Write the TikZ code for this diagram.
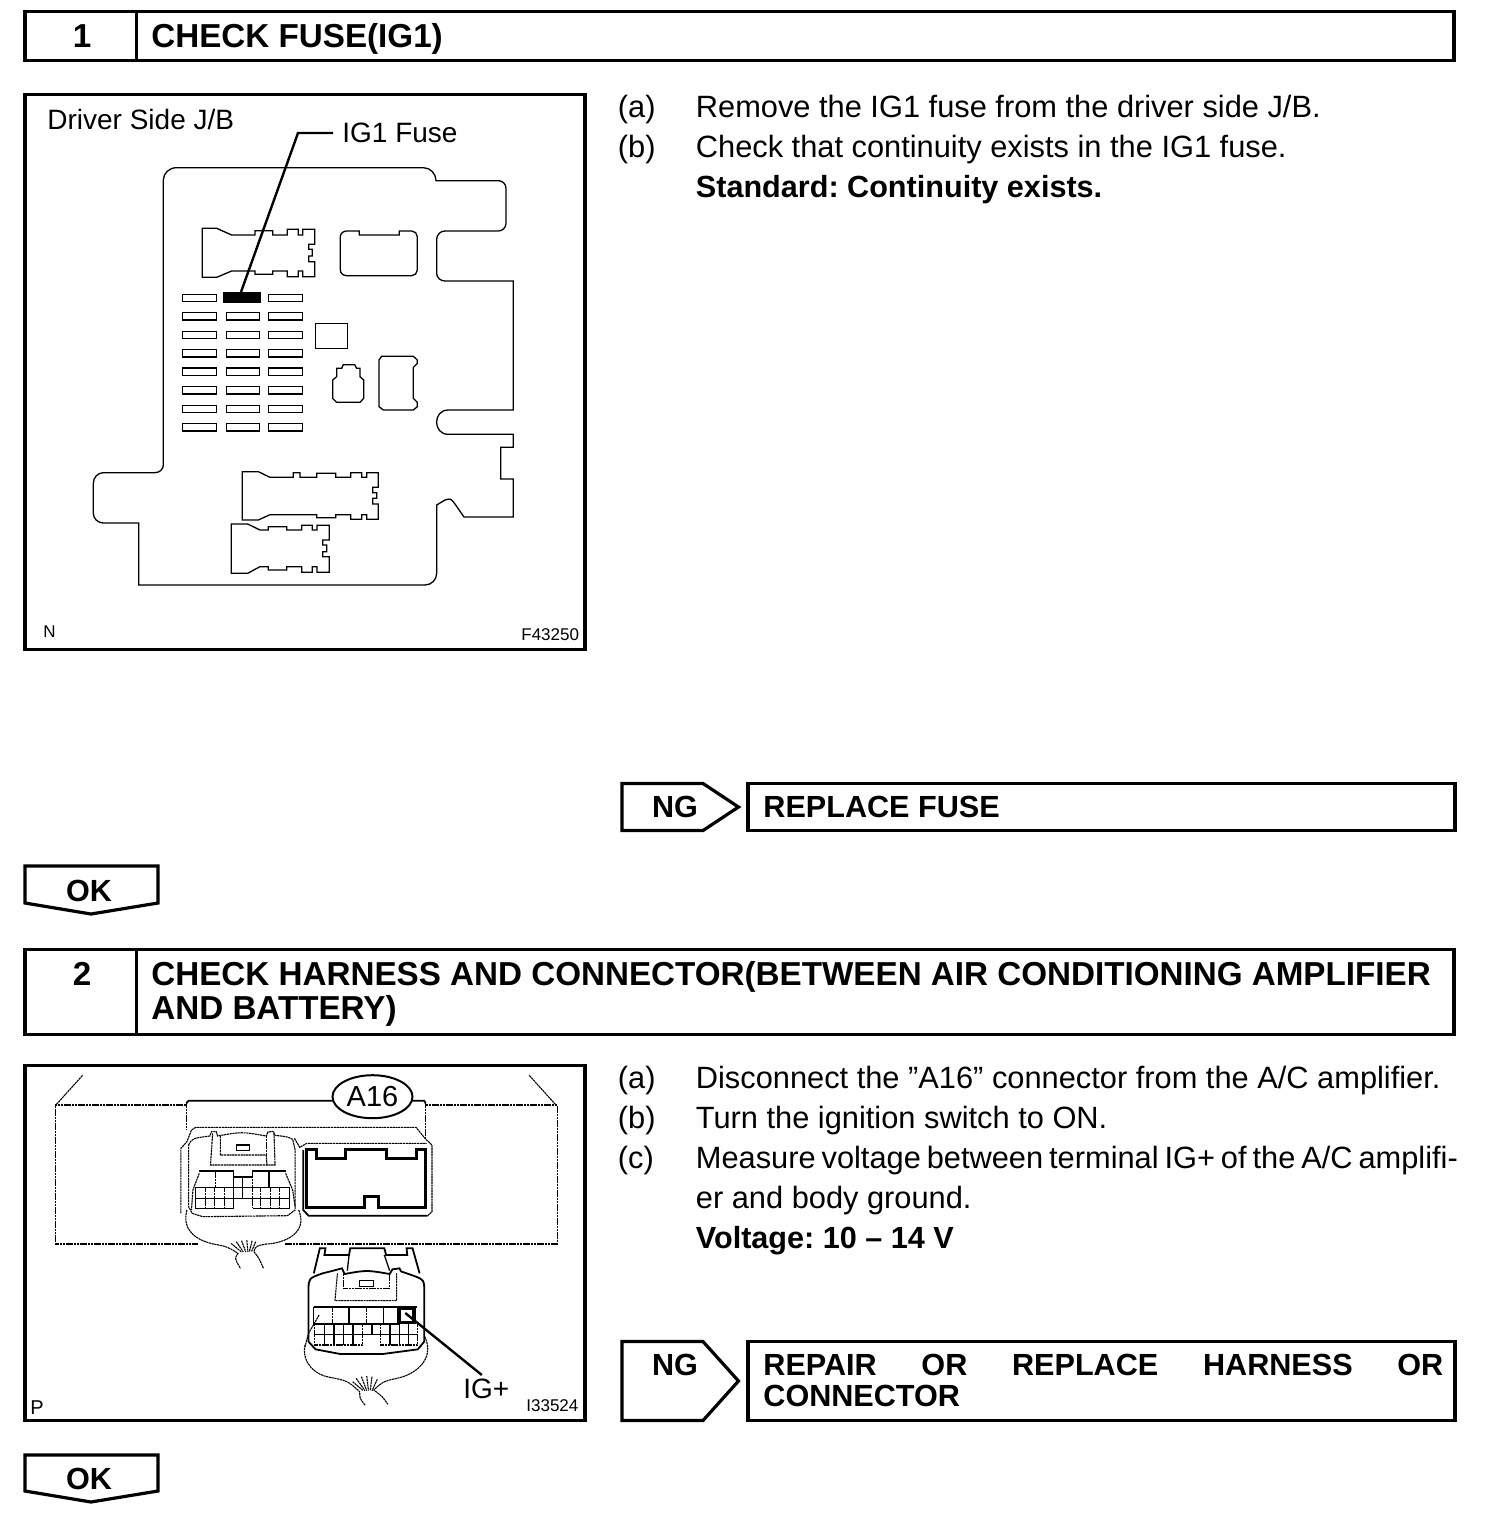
\documentclass[tikz,border=0pt]{standalone}
\usepackage{fontspec}
\setmainfont{Liberation Sans}
\usetikzlibrary{shapes.geometric,calc}
\AtBeginDocument{\frenchspacing}
\newcommand{\fpx}[1]{\fontsize{#1}{#1}\selectfont}
\newcommand{\rc}[3]{.. controls ($(#1)!.55!(#2)$) and ($(#3)!.55!(#2)$) .. (#3)}
\tikzset{
  x=0.5pt,y=0.5pt,
  frame/.style={draw=black,line width=1.6pt,line join=miter},
  txt/.style={anchor=base west,inner sep=0pt,font=\fpx{15.4}},
  btxt/.style={anchor=base west,inner sep=0pt,font=\fpx{15.3}\bfseries},
  head/.style={anchor=base west,inner sep=0pt,font=\fpx{16.6}\bfseries},
  lbl/.style={anchor=base west,inner sep=0pt,font=\fpx{14}},
  tiny/.style={anchor=base west,inner sep=0pt,font=\fpx{8.5}},
  part/.style={draw=black,line width=0.65pt,line join=miter},
  fine/.style={draw=black,line width=0.55pt,dash pattern=on 1.1pt off 0.3pt},
  heavy/.style={draw=black,line width=1.5pt,line join=miter},
  leader/.style={draw=black,line width=1.2pt},
  zoomA/.style={shift={(80,-150)},xscale=1/3,yscale=-1/3},
  zoomB/.style={shift={(30,-1070)},xscale=1/2.836,yscale=-1/3},
}
\begin{document}
\begin{tikzpicture}
\useasboundingbox (0,0) rectangle (1504,-1532);
\fill[white] (0,0) rectangle (1504,-1532);

% headers
\draw[frame] (25,-11.5) rectangle (1454,-60.5);
\draw[frame] (136.5,-11.5) -- (136.5,-60.5);
\node[head,anchor=base] (n1) at (82,-47) {1};
\node[head] (h1) at (151,-47) {CHECK FUSE(IG1)};
\draw[frame] (25,-949.5) rectangle (1454,-1034.5);
\draw[frame] (136.5,-949.5) -- (136.5,-1034.5);
\node[head,anchor=base] (n2) at (82,-985) {2};
\node[head] (h2a) at (151,-985) {CHECK HARNESS AND CONNECTOR(BETWEEN AIR CONDITIONING AMPLIFIER};
\node[head] (h2b) at (151,-1019) {AND BATTERY)};

% picture frames
\draw[frame] (25,-94.5) rectangle (585,-649.5);
\draw[frame] (25,-1065.5) rectangle (585,-1420.5);

% step 1 text
\node[txt] (a1) at (617.5,-117) {(a)};
\node[txt] (a1t) at (695.5,-117) {Remove the IG1 fuse from the driver side J/B.};
\node[txt] (b1) at (617.5,-157) {(b)};
\node[txt] (b1t) at (695.5,-157) {Check that continuity exists in the IG1 fuse.};
\node[btxt] (s1) at (695.5,-197) {Standard: Continuity exists.};

% NG / OK 1
\draw[frame] (622,-783.5) -- (703,-783.5) -- (738.5,-807) -- (703,-830.5) -- (622,-830.5) -- cycle;
\node[btxt,anchor=base] (ng1) at (675,-817) {NG};
\draw[frame] (748,-783.5) rectangle (1455,-830.5);
\node[btxt] (r1) at (763,-817) {REPLACE FUSE};
\draw[frame] (25,-866) -- (158,-866) -- (158,-903) -- (91,-914) -- (25,-903) -- cycle;
\node[btxt,anchor=base] (ok1) at (89,-901) {OK};

% step 2 text
\node[txt] (a2) at (617.5,-1088) {(a)};
\node[txt] (a2t) at (695.5,-1088) {Disconnect the ”A16” connector from the A/C amplifier.};
\node[txt] (b2) at (617.5,-1128) {(b)};
\node[txt] (b2t) at (695.5,-1128) {Turn the ignition switch to ON.};
\node[txt] (c2) at (617.5,-1168) {(c)};
\node[txt] (c2t) at (695.5,-1168) {\hbox to 381pt{Measure voltage between terminal IG+ of the A/C amplifi-}};
\node[txt] (c2u) at (695.5,-1208) {er and body ground.};
\node[btxt] (v2) at (695.5,-1248) {Voltage: 10 – 14 V};

% NG / OK 2
\draw[frame] (622,-1341.5) -- (703,-1341.5) -- (738.5,-1381) -- (703,-1420.5) -- (622,-1420.5) -- cycle;
\node[btxt,anchor=base] (ng2) at (675,-1375) {NG};
\draw[frame] (748,-1341.5) rectangle (1455,-1420.5);
\node[btxt] (r2) at (763,-1375) {\hbox to 340pt{REPAIR\hfill OR\hfill REPLACE\hfill HARNESS\hfill OR}};
\node[btxt] (r2b) at (763,-1406) {CONNECTOR};
\draw[frame] (25,-1455) -- (158,-1455) -- (158,-1491) -- (91,-1502) -- (25,-1491) -- cycle;
\node[btxt,anchor=base] (ok2) at (89,-1489) {OK};

% ---------- figure 1 labels
\node[lbl] (jb) at (47,-129) {Driver Side J/B};
\node[lbl] (ig1) at (342,-142) {IG1 Fuse};
\node[tiny] (nN) at (43,-637) {N};
\node[tiny] (f43) at (521,-640) {F43250};

% ---------- figure 1 drawing
\begin{scope}[zoomA]
\draw[part] (290,53) -- (1030,53) \rc{1030,53}{1068,53}{1068,92} -- (1255,92) \rc{1255,92}{1278,92}{1278,115}
 -- (1278,220) \rc{1278,220}{1278,243}{1255,243} -- (1095,243) \rc{1095,243}{1070,243}{1070,268}
 -- (1070,370) \rc{1070,370}{1070,393}{1095,393} -- (1300,393) -- (1300,780) -- (1105,780)
 .. controls (1058,780) and (1058,853) .. (1105,853) -- (1300,853) -- (1300,892) -- (1262,892) -- (1262,987) -- (1300,987)
 -- (1300,1101) -- (1152,1101) -- (1125,1062) .. controls (1112,1045) .. (1095,1050) -- (1070,1065) -- (1070,1270)
 \rc{1070,1270}{1070,1305}{1035,1305} -- (176,1305) -- (176,1119) -- (70,1119) \rc{70,1119}{40,1119}{40,1090}
 -- (40,1000) \rc{40,1000}{40,968}{70,968} -- (225,968) \rc{225,968}{250,968}{250,945}
 -- (250,90) \rc{250,90}{250,53}{290,53} -- cycle;
% upper connector
\draw[part] (367,235) -- (410,235) -- (455,255) -- (525,255) -- (525,242) -- (578,242) -- (578,255) -- (622,255) -- (622,238) -- (655,238) -- (655,255) -- (668,255) -- (668,238) -- (704,238) -- (704,283) -- (686,283) -- (686,298) -- (697,298) -- (697,318) -- (686,318) -- (686,335) -- (704,335) -- (704,380) -- (668,380) -- (668,363) -- (655,363) -- (655,380) -- (622,380) -- (622,363) -- (578,363) -- (578,373) -- (525,373) -- (525,363) -- (455,363) -- (410,382) -- (367,382) -- cycle;
% rounded block
\draw[part] (800,243) -- (838,243) -- (838,255) -- (958,255) -- (958,243) -- (995,243) \rc{995,243}{1012,243}{1012,260} -- (1012,360) \rc{1012,360}{1012,377}{995,377} -- (800,377) \rc{800,377}{781,377}{781,360} -- (781,260) \rc{781,260}{781,243}{800,243} -- cycle;
% fuses
\foreach \yy in {444,499,555,610,665,721,777,832}{
  \draw[part,line width=0.55pt] (308,\yy-11) rectangle (409,\yy+11);
  \draw[part,line width=0.55pt] (439,\yy-11) rectangle (538,\yy+11);
  \draw[part,line width=0.55pt] (566,\yy-11) rectangle (667,\yy+11);
}
% small parts
\draw[part] (706,520) rectangle (803,596);
\draw[part] (758,690) -- (770,680) -- (770,655) -- (785,655) -- (790,644) -- (824,644) -- (830,655) -- (840,655) -- (840,680) -- (851,690) -- (851,745) -- (840,757) -- (770,757) -- (758,745) -- cycle;
\draw[part] (897,630) -- (905,619) -- (1000,619) -- (1012,630) -- (1012,640) -- (1000,652) -- (1000,745) -- (1012,757) -- (1012,770) -- (1000,780) -- (910,780) -- (897,770) -- cycle;
% lower connectors
\draw[part] (487,965) -- (535,965) -- (570,982) -- (640,982) -- (640,968) -- (660,968) -- (660,982) -- (710,982) -- (710,970) -- (767,970) -- (767,982) -- (812,982) -- (812,968) -- (845,968) -- (845,982) -- (860,982) -- (860,968) -- (895,968) -- (895,1012) -- (878,1012) -- (878,1028) -- (890,1028) -- (890,1045) -- (878,1045) -- (878,1062) -- (895,1062) -- (895,1108) -- (860,1108) -- (860,1094) -- (845,1094) -- (845,1108) -- (812,1108) -- (812,1094) -- (767,1094) -- (767,1103) -- (710,1103) -- (710,1094) -- (570,1094) -- (535,1110) -- (487,1110) -- cycle;
\draw[part] (454,1122) -- (503,1122) -- (540,1140) -- (565,1140) -- (565,1130) -- (620,1130) -- (620,1140) -- (665,1140) -- (665,1126) -- (697,1126) -- (697,1140) -- (711,1140) -- (711,1126) -- (748,1126) -- (748,1170) -- (728,1170) -- (728,1185) -- (740,1185) -- (740,1205) -- (728,1205) -- (728,1220) -- (748,1220) -- (748,1267) -- (711,1267) -- (711,1250) -- (697,1250) -- (697,1267) -- (665,1267) -- (665,1250) -- (620,1250) -- (620,1260) -- (565,1260) -- (565,1250) -- (540,1250) -- (503,1270) -- (454,1270) -- cycle;
\end{scope}
% highlighted fuse and its leader
\node[fill=black,draw=none,inner sep=0pt,minimum width=19pt,minimum height=5.6pt] (ig1fuse) at (242,-297.5) {};
\coordinate (ig1bend) at (298,-133);
\coordinate (ig1foot) at (241,-292);
\coordinate (ig1tip) at ([xshift=-4.5pt]ig1bend -| ig1.west);
\draw[leader] (ig1tip) -- (ig1bend) -- (ig1foot);

% ---------- figure 2 labels
\node[tiny,font=\fpx{10}] (nP) at (30,-1414) {P};
\node[tiny] (i13) at (526,-1411) {I33524};
\node[lbl] (igp) at (463,-1398) {IG+};

% ---------- figure 2 drawing
\begin{scope}[zoomB]
% panel
\draw[fine] (75,103) -- (150,15);
\draw[fine] (1490,103) -- (1415,15);
\draw[fine] (443,105) -- (72,105) -- (72,522) -- (475,522);
\draw[fine] (722,522) -- (1495,522) -- (1495,105) -- (1120,105);
\draw[part,line width=0.9pt] (858,92) -- (450,92) -- (443,100);
\draw[part,line width=0.9pt] (1072,92) -- (1118,92) -- (1122,100);
\draw[fine] (443,100) -- (443,178);
\draw[fine] (1122,100) -- (1122,205);
% housing
\draw[fine] (428,430) -- (428,235) -- (445,215) -- (458,180) -- (470,172) -- (1095,172) -- (1120,205) -- (1140,225) -- (1140,425) -- (1128,437);
\draw[part,line width=0.9pt] (1128,437) -- (790,437) -- (775,420) -- (775,240);
\draw[fine] (750,205) -- (765,232) -- (785,220) -- (1125,220);
\draw[heavy] (785,238) -- (812,238) -- (812,265) -- (895,265) -- (895,238) -- (1012,238) -- (1012,265) -- (1095,265) -- (1095,238) -- (1122,238) -- (1122,413) -- (988,413) -- (988,380) -- (950,380) -- (950,413) -- (785,413) -- cycle;
% left connector
\draw[fine] (450,225) .. controls (460,205) .. (510,198) -- (515,185) -- (528,185) -- (532,198) .. controls (600,185) .. (670,198) -- (675,186) -- (690,184) -- (695,196) .. controls (730,200) .. (745,208) -- (752,240) -- (752,420) -- (730,437) -- (490,440) -- (460,430) -- (450,410) -- cycle;
\draw[fine] (518,190) -- (512,285) -- (695,285) -- (692,190);
\draw[fine] (540,198) -- (540,255) -- (670,255) -- (672,285);
\draw[fine] (670,198) -- (670,255);
\draw[part] (585,225) rectangle (622,242);
\draw[part,line width=0.9pt] (480,302) -- (578,302);
\draw[part,line width=0.9pt] (630,302) -- (725,302);
\draw[part,line width=0.9pt] (578,322) -- (630,322);
\draw[fine] (527,302) -- (527,352);
\draw[part] (578,302) -- (578,415);
\draw[fine] (630,302) -- (630,415);
\draw[part] (678,302) -- (678,352);
\draw[part] (603,322) -- (603,385);
\draw[part] (470,352) -- (735,352) -- (735,415) -- (632,415);
\draw[part] (470,352) -- (470,415) -- (578,415);
\draw[part] (470,385) -- (735,385);
\foreach \xx in {497,524,551,655,682,708}{\draw[fine] (\xx,352) -- (\xx,415);}
\draw[fine] (480,310) -- (462,360) -- (458,420);
\draw[fine] (725,310) -- (745,360) -- (752,410);
% left wires
\draw[fine] (445,420) .. controls (430,480) and (470,510) .. (520,522) .. controls (560,530) .. (590,550) .. controls (580,565) .. (597,595);
\draw[fine] (762,420) .. controls (790,490) and (720,520) .. (670,522) .. controls (640,528) .. (635,545) .. controls (650,565) .. (662,595);
\foreach \ax/\ay/\bx in {570/520/600,585/515/605,600/512/612,615/510/618,630/512/622,640/515/628}{\draw[fine] (\ax,\ay) -- (\bx,546);}
% lower connector
\draw[part,line width=0.9pt] (805,610) -- (822,535) -- (838,535) -- (835,555) -- (905,555) -- (908,535) -- (1005,535) -- (1010,555) -- (1070,555) -- (1068,535) -- (1085,535) -- (1105,610);
\draw[part] (905,555) -- (900,602);
\draw[part] (1005,555) -- (1020,602);
\draw[part,line width=0.9pt] (790,660) .. controls (790,625) .. (830,610) -- (860,602) -- (885,595) -- (892,612) .. controls (955,600) .. (1020,612) -- (1028,598) -- (1048,595) -- (1052,604) -- (1090,618) .. controls (1118,630) .. (1118,660) -- (1118,815) -- (1100,838) -- (1000,852) -- (880,852) -- (810,838) -- (790,815) -- cycle;
\draw[fine] (872,610) -- (865,692) -- (1040,692) -- (1040,610);
\draw[fine] (890,612) -- (890,655) -- (1020,655) -- (1020,612);
\draw[part] (935,632) rectangle (975,650);
\draw[part,line width=0.9pt] (805,712) -- (1098,712);
\draw[part] (805,712) -- (805,762) -- (1047,762);
\draw[fine] (857,712) -- (857,762);
\draw[part] (905,712) -- (905,762);
\draw[fine] (955,712) -- (955,762);
\draw[part] (1003,712) -- (1003,762);
\draw[fine] (807,762) -- (807,825) -- (943,825) -- (943,762);
\draw[fine] (995,762) -- (995,825) -- (1100,825) -- (1100,762);
\draw[part] (807,793) -- (1100,793);
\foreach \xx in {835,862,889,916,1021,1047,1073}{\draw[part] (\xx,762) -- (\xx,825);}
\draw[part] (970,762) -- (970,793);
\draw[fine] (820,735) -- (790,790) -- (780,830);
% lower wires
\draw[fine] (780,825) .. controls (770,880) and (810,915) .. (850,922) .. controls (900,932) .. (935,965) .. controls (935,985) .. (950,1005);
\draw[fine] (1120,800) .. controls (1150,870) and (1090,915) .. (1040,925) .. controls (1000,935) .. (975,960) .. controls (1000,980) .. (1015,1003);
\foreach \ax/\ay/\bx in {915/935/945,925/925/950,940/920/955,955/918/960,970/920/965,985/928/970}{\draw[fine] (\ax,\ay) -- (\bx,962);}
\coordinate (igtick) at (1070,735);
\coordinate (igend) at (1290,915);
\end{scope}
% highlighted terminal, A16 bubble, leader
\node[draw=black,line width=1.7pt,minimum width=7.5pt,minimum height=7pt,inner sep=0pt] (igbox) at (406.5,-1315.7) {};
\draw[leader] ([shift={(-2,2)}]igtick) -- ([shift={(-3,0)}]igend);
\node[ellipse,draw=black,line width=1pt,fill=white,minimum width=40pt,minimum height=21.5pt,inner sep=0pt,font=\fpx{14.5}] (a16) at (372.5,-1096.7) {A16};
\end{tikzpicture}
\end{document}
